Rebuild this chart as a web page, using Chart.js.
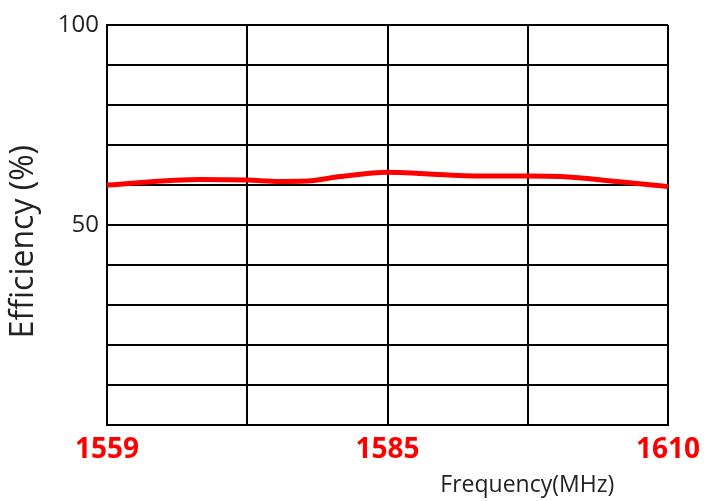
<!DOCTYPE html>
<html>
<head>
<meta charset="utf-8">
<script src="https://cdn.jsdelivr.net/npm/chart.js@4"></script>
<style>
  body { margin: 0; background: #fff; }
  #wrap { width: 718px; height: 501px; }
</style>
</head>
<body>
<div id="wrap"><canvas id="chart" width="718" height="501"></canvas></div>
<script>
// values
let freq = [1559, 1567.5, 1571.75, 1574.7, 1577.2, 1580.2, 1584.5, 1585.6, 1592.9, 1597.3, 1600.2, 1605.6, 1610];
let eff = [60.0, 61.4, 61.25, 60.9, 61.0, 62.1, 63.2, 63.1, 62.25, 62.25, 62.1, 60.8, 59.6];

let xTicks = [1559, 1571.75, 1584.5, 1597.25, 1610];
let xTickLabels = ["1559", "", "1585", "", "1610"];
let yShown = [50, 100];

let points = [];
for(let i = 0; i < freq.length; i++){
	points.push({x: freq[i], y: eff[i]});
}

let ctx = document.getElementById("chart").getContext("2d");
let chart = new Chart(ctx, {
	type: "line",
	data: {
		datasets: [{
			data: points,
			borderColor: "#ff0000",
			borderWidth: 5,
			pointRadius: 0,
			cubicInterpolationMode: "monotone",
			fill: false
		}]
	},
	options: {
		responsive: false,
		animation: false,
		layout: {padding: {top: 25, right: 50, bottom: 0, left: 0}},
		plugins: {legend: {display: false}, tooltip: {enabled: false}},
		scales: {
			x: {
				type: "linear",
				min: 1559,
				max: 1610,
				afterBuildTicks: function(axis){
					axis.ticks = xTicks.map(v => ({value: v}));
				},
				afterFit: function(axis){ axis.height = 76; },
				grid: {color: "#000", lineWidth: 2, drawTicks: false},
				border: {color: "#000", width: 2},
				ticks: {
					autoSkip: false,
					maxRotation: 0,
					padding: 8,
					color: "#ff0000",
					font: {family: "Open Sans", size: 28, weight: "bold"},
					callback: function(v, i){ return xTickLabels[i]; }
				},
				title: {
					display: true,
					text: "Frequency(MHz)         ",
					align: "end",
					color: "#222",
					font: {family: "Open Sans", size: 23},
					padding: {top: 0, bottom: 2}
				}
			},
			y: {
				min: 0,
				max: 100,
				afterFit: function(axis){ axis.width = 107; },
				grid: {color: "#000", lineWidth: 2, drawTicks: false},
				border: {color: "#000", width: 2},
				ticks: {
					stepSize: 10,
					padding: 8,
					color: "#222",
					font: {family: "Open Sans", size: 24},
					callback: function(v){ return yShown.includes(v) ? String(v) : ""; }
				},
				title: {
					display: true,
					text: "Efficiency (%)    ",
					color: "#222",
					font: {family: "Open Sans", size: 32},
					padding: {top: 5, bottom: 0}
				}
			}
		}
	}
});
</script>
</body>
</html>
